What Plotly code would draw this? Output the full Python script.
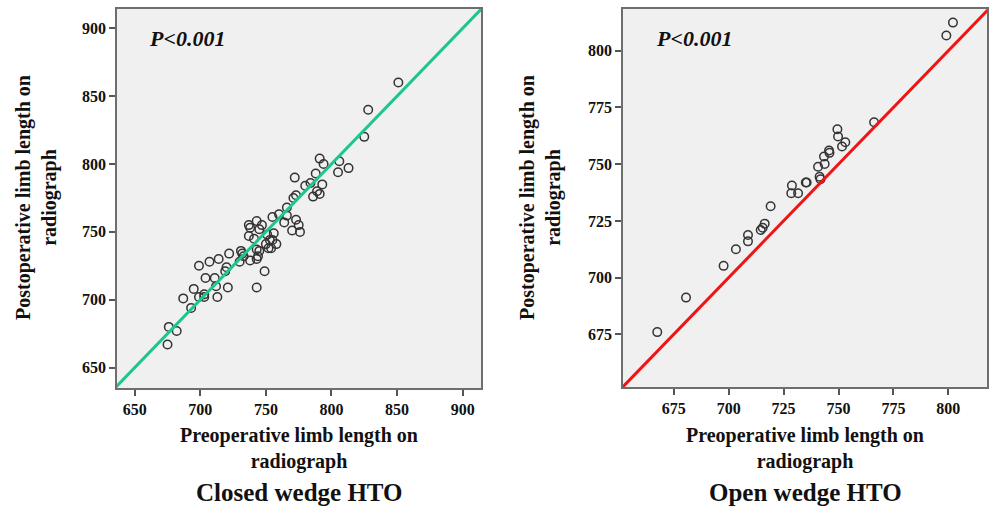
import plotly.graph_objects as go

# ---------------- data ----------------
closed_pre = [675, 676, 682, 693, 687, 695, 699, 703, 703, 704, 699, 707, 714, 711, 712, 713,
              721, 720, 719, 722, 730, 732, 733, 731, 738, 743, 744, 745, 743, 743, 749, 741,
              737, 738, 737, 743, 745, 747, 751, 753, 754, 752, 750, 758, 755, 756, 755, 760,
              764, 766, 766, 770, 773, 775, 776, 771, 773, 786, 789, 791, 784, 780, 793, 772,
              788, 791, 794, 806, 805, 813, 825, 828, 851]
closed_post = [667, 680, 677, 694, 701, 708, 702, 702, 704, 716, 725, 728, 730, 716, 710, 702,
               709, 724, 721, 734, 728, 734, 732, 736, 729, 730, 732, 736, 737, 709, 721, 745,
               747, 753, 755, 758, 752, 755, 748, 744, 738, 738, 741, 741, 744, 749, 761, 763,
               757, 762, 768, 751, 759, 755, 750, 775, 777, 776, 780, 778, 786, 784, 785, 790,
               793, 804, 800, 802, 794, 797, 820, 840, 860]

open_pre = [667.5, 680.6, 697.7, 703.3, 708.8, 708.8, 714.6, 715.5, 716.4, 719.1, 728.5, 731.6,
            728.8, 735.1, 735.5, 740.7, 741.4, 741.8, 743.4, 743.7, 745.7, 745.9, 749.5, 749.8,
            751.6, 753.1, 766.2, 799.1, 802.1]
open_post = [676.0, 691.2, 705.2, 712.5, 718.8, 716.0, 721.0, 722.0, 723.8, 731.5, 737.2, 737.2,
             740.6, 741.9, 741.9, 748.9, 744.5, 743.4, 753.4, 750.1, 756.0, 755.0, 765.4, 762.2,
             757.8, 759.7, 768.5, 806.7, 812.4]

closed_xrange = [636.5, 914.0]
closed_yrange = [635.0, 914.2]
closed_ticks = [650, 700, 750, 800, 850, 900]
open_xrange = [651.9, 817.6]
open_yrange = [651.8, 818.4]
open_ticks = [675, 700, 725, 750, 775, 800]

p_text = "P<0.001"
x_title = "Preoperative limb length on<br>radiograph"
y_title = "Postoperative limb length on<br>radiograph"
sub_titles = ["Closed wedge HTO", "Open wedge HTO"]

# ---------------- figure ----------------
W, H = 990, 507
SERIF = "Liberation Serif, Times New Roman, serif"
INK = "#111111"
fig = go.Figure()

marker = dict(symbol="circle-open", size=8.5, color="#333333", line=dict(width=1.5, color="#333333"))

fig.add_trace(go.Scatter(x=closed_pre, y=closed_post, mode="markers", marker=marker,
                         xaxis="x", yaxis="y", showlegend=False, hoverinfo="x+y"))
lo = min(closed_xrange[0], closed_yrange[0]); hi = max(closed_xrange[1], closed_yrange[1])
fig.add_trace(go.Scatter(x=[lo, hi], y=[lo, hi], mode="lines",
                         line=dict(color="#1cc78d", width=3), xaxis="x", yaxis="y",
                         showlegend=False, hoverinfo="skip"))

fig.add_trace(go.Scatter(x=open_pre, y=open_post, mode="markers", marker=marker,
                         xaxis="x2", yaxis="y2", showlegend=False, hoverinfo="x+y"))
lo2 = min(open_xrange[0], open_yrange[0]); hi2 = max(open_xrange[1], open_yrange[1])
fig.add_trace(go.Scatter(x=[lo2, hi2], y=[lo2, hi2], mode="lines",
                         line=dict(color="#f01414", width=3), xaxis="x2", yaxis="y2",
                         showlegend=False, hoverinfo="skip"))


def px_x(p):
    return p / W


def px_y(p):
    return (H - p) / H


ax_common = dict(showgrid=False, zeroline=False, showline=True, mirror=True,
                 linecolor="#6e6e6e", linewidth=1.5, ticks="outside", ticklen=6,
                 tickwidth=1.5, tickcolor="#555555",
                 tickfont=dict(family=SERIF, size=16, color=INK))

fig.update_layout(
    width=W, height=H,
    margin=dict(l=0, r=0, t=0, b=0),
    paper_bgcolor="white",
    plot_bgcolor="#f0f0f0",
    font=dict(family=SERIF),
    xaxis=dict(domain=[px_x(117), px_x(481)], range=closed_xrange, tickvals=closed_ticks,
               ticktext=["<b>%d</b>" % v for v in closed_ticks], anchor="y", **ax_common),
    yaxis=dict(domain=[px_y(388), px_y(9)], range=closed_yrange, tickvals=closed_ticks,
               ticktext=["<b>%d</b>" % v for v in closed_ticks], anchor="x", **ax_common),
    xaxis2=dict(domain=[px_x(623), px_x(987)], range=open_xrange, tickvals=open_ticks,
                ticktext=["<b>%d</b>" % v for v in open_ticks], anchor="y2", **ax_common),
    yaxis2=dict(domain=[px_y(387), px_y(9)], range=open_yrange, tickvals=open_ticks,
                ticktext=["<b>%d</b>" % v for v in open_ticks], anchor="x2", **ax_common),
)


def bold_lines(t):
    return "<b>" + t.replace("<br>", "</b><br><b>") + "</b>"


ann = []
centers = [(117 + 481) / 2, (623 + 987) / 2]
ytitle_x = [36, 540]
p_x = [147, 654]
for i in range(2):
    ann.append(dict(text=bold_lines(x_title), x=px_x(centers[i]), y=px_y(448), xref="paper",
                    yref="paper", showarrow=False, xanchor="center", yanchor="middle",
                    font=dict(family=SERIF, size=20, color=INK)))
    ann.append(dict(text="<b>" + sub_titles[i] + "</b>", x=px_x(centers[i]), y=px_y(492),
                    xref="paper", yref="paper", showarrow=False, xanchor="center",
                    yanchor="middle", font=dict(family=SERIF, size=25, color=INK)))
    ann.append(dict(text=bold_lines(y_title), x=px_x(ytitle_x[i]), y=px_y(198), xref="paper",
                    yref="paper", showarrow=False, textangle=-90, xanchor="center",
                    yanchor="middle", font=dict(family=SERIF, size=20, color=INK)))
    ann.append(dict(text="<b><i>" + p_text + "</i></b>", x=px_x(p_x[i]), y=px_y(38),
                    xref="paper", yref="paper", showarrow=False, xanchor="left",
                    yanchor="middle", font=dict(family=SERIF, size=22, color=INK)))

fig.update_layout(annotations=ann)

fig.write_html("out.html",
               config={"displayModeBar": False},
               post_script="document.body.style.margin='0';document.body.style.overflow='hidden';")
